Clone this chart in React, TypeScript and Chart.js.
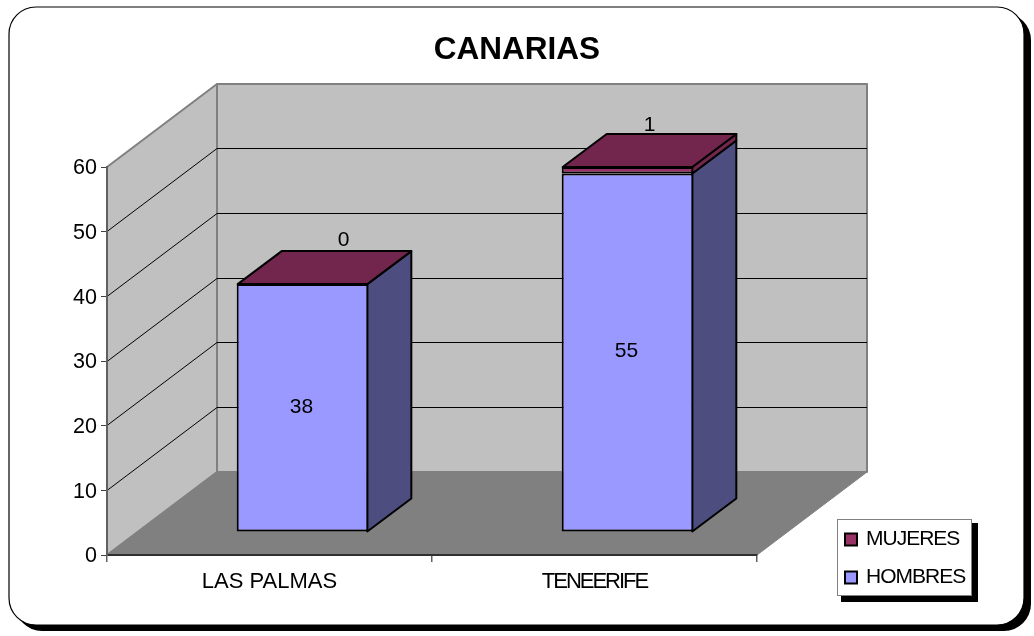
import React, { useEffect, useRef } from "react";
import { Chart, registerables } from "chart.js";

Chart.register(...registerables);

const categories = ["LAS PALMAS", "TENEERIFE"];
const hombres = [38, 55];
const mujeres = [0, 1];
const yTicksMax = 60;

const FONT = '"Liberation Sans", Arial, sans-serif';
const BAR_SHIFT = { x: 33, y: -23.5 };
const BAR_DEPTH = { x: 44, y: 33 };
const WALL_DEPTH = { x: 110, y: 83 };
const X_LABEL_SPACING = ["0px", "-2px"];

const poly = (ctx: CanvasRenderingContext2D, pts: number[][], fill: string, stroke: string, lw: number) => {
  ctx.beginPath();
  pts.forEach((p, i) => (i ? ctx.lineTo(p[0], p[1]) : ctx.moveTo(p[0], p[1])));
  ctx.closePath();
  ctx.fillStyle = fill;
  ctx.fill();
  if (lw > 0) {
    ctx.strokeStyle = stroke;
    ctx.lineWidth = lw;
    ctx.lineJoin = "round";
    ctx.stroke();
  }
};

const stagePlugin = {
  id: "stage",
  afterLayout(chart: any) {
    // centre the title on the whole page, not on the padded box
    chart.titleBlock.left = 0;
    chart.titleBlock.right = chart.width;
    // category labels keep the scale's own positions, with per-label tracking
    const x = chart.scales.x;
    x.drawLabels = function (area: any) {
      const ctx = this.ctx;
      this.getLabelItems(area).forEach((item: any, i: number) => {
        const o = item.options;
        ctx.save();
        ctx.translate(o.translation[0], o.translation[1]);
        ctx.font = item.font.string;
        ctx.letterSpacing = X_LABEL_SPACING[i];
        ctx.fillStyle = o.color;
        ctx.textAlign = o.textAlign;
        ctx.textBaseline = o.textBaseline;
        ctx.fillText(item.label, 0, item.textOffset);
        ctx.restore();
      });
    };
  },
  beforeDraw(chart: any) {
    const { ctx, chartArea: a, scales } = chart;
    const dx = WALL_DEPTH.x;
    const dy = WALL_DEPTH.y;
    ctx.save();
    ctx.fillStyle = "#ffffff";
    ctx.fillRect(0, 0, chart.width, chart.height);
    // frame with shadow
    ctx.fillStyle = "#000000";
    ctx.beginPath();
    ctx.roundRect(15, 13, 1016, 618, 27);
    ctx.fill();
    ctx.beginPath();
    ctx.roundRect(9, 7, 1015, 618, 27);
    ctx.fillStyle = "#ffffff";
    ctx.fill();
    ctx.strokeStyle = "#000000";
    ctx.lineWidth = 1.2;
    ctx.stroke();

    // walls and floor
    const L = a.left, R = a.right, T = a.top, B = a.bottom;
    poly(ctx, [[L + dx, T - dy], [R + dx, T - dy], [R + dx, B - dy], [L + dx, B - dy]], "#c0c0c0", "#808080", 2);
    poly(ctx, [[L, T], [L + dx, T - dy], [L + dx, B - dy], [L, B]], "#c0c0c0", "#808080", 2);
    poly(ctx, [[L, B], [L + dx, B - dy], [R + dx, B - dy], [R, B]], "#808080", "#808080", 1);

    // gridlines on the walls
    ctx.strokeStyle = "#000000";
    ctx.lineWidth = 1;
    scales.y.ticks.forEach((t: any) => {
      if (t.value === 0 || t.value === yTicksMax) return;
      const y = Math.floor(scales.y.getPixelForValue(t.value)) + 0.5;
      ctx.beginPath();
      ctx.moveTo(L, y);
      ctx.lineTo(L + dx, y - dy);
      ctx.lineTo(R + dx, y - dy);
      ctx.stroke();
    });
    ctx.restore();
  },
  beforeDatasetsDraw(chart: any) {
    const { ctx } = chart;
    ctx.save();
    ctx.translate(BAR_SHIFT.x, BAR_SHIFT.y);
    const sideColors = ["#4d4d80", "#73264d"];
    const metas = chart.data.datasets.map((_: any, i: number) => chart.getDatasetMeta(i));
    categories.forEach((_, idx) => {
      metas.forEach((m: any, di: number) => {
        const el = m.data[idx];
        const r = el.x + el.width / 2 - 1;
        const h = Math.abs(el.base - el.y);
        if (h > 0.01) {
          poly(ctx, [[r, el.y], [r + BAR_DEPTH.x, el.y - BAR_DEPTH.y], [r + BAR_DEPTH.x, el.base - BAR_DEPTH.y], [r, el.base]], sideColors[di], "#000000", 2);
        }
      });
      const top = metas[metas.length - 1].data[idx];
      const l = top.x - top.width / 2 + 1;
      const r = top.x + top.width / 2 - 1;
      poly(ctx, [[l, top.y], [l + BAR_DEPTH.x, top.y - BAR_DEPTH.y], [r + BAR_DEPTH.x, top.y - BAR_DEPTH.y], [r, top.y]], "#73264d", "#000000", 2);
    });
  },
  afterDatasetsDraw(chart: any) {
    const { ctx } = chart;
    ctx.restore();
    ctx.save();
    ctx.font = `21px ${FONT}`;
    ctx.fillStyle = "#000000";
    ctx.textAlign = "center";
    ctx.textBaseline = "middle";
    const m0 = chart.getDatasetMeta(0);
    const m1 = chart.getDatasetMeta(1);
    const topDx = [41, 22];
    const topDy = [-44, -42];
    categories.forEach((_, idx) => {
      const a = m0.data[idx];
      ctx.fillText(String(hombres[idx]), a.x + BAR_SHIFT.x - 1, (a.y + a.base) / 2 + BAR_SHIFT.y - 1);
      const b = m1.data[idx];
      ctx.fillText(String(mujeres[idx]), b.x + BAR_SHIFT.x + topDx[idx], b.y + BAR_SHIFT.y + topDy[idx]);
    });
    // legend
    const x = 837, y = 519, w = 134, h = 76;
    ctx.fillStyle = "#000000";
    ctx.fillRect(x + 4, y + 4, w + 3, h + 3);
    ctx.fillStyle = "#ffffff";
    ctx.fillRect(x, y, w, h);
    ctx.strokeStyle = "#808080";
    ctx.lineWidth = 1;
    ctx.strokeRect(x + 0.5, y + 0.5, w, h);
    const items = [chart.data.datasets[1], chart.data.datasets[0]];
    ctx.font = `21px ${FONT}`;
    ctx.letterSpacing = "-1px";
    ctx.textAlign = "left";
    items.forEach((d: any, i: number) => {
      const cy = 539.5 + i * 38;
      ctx.fillStyle = d.backgroundColor;
      ctx.fillRect(845, cy - 6, 12, 12);
      ctx.strokeStyle = "#000000";
      ctx.lineWidth = 2;
      ctx.strokeRect(845, cy - 6, 12, 12);
      ctx.fillStyle = "#000000";
      ctx.fillText(d.label, 866, cy);
    });
    ctx.restore();
  },
};

export default function App() {
  const ref = useRef<HTMLCanvasElement>(null);
  useEffect(() => {
    document.body.style.margin = "0";
    const chart = new Chart(ref.current as HTMLCanvasElement, {
      type: "bar",
      data: {
        labels: categories,
        datasets: [
          { label: "HOMBRES", data: hombres, backgroundColor: "#9999ff", borderColor: "#000000", borderWidth: 2, borderSkipped: false, yAxisID: "yBars", clip: false },
          { label: "MUJERES", data: mujeres, backgroundColor: "#993366", borderColor: "#000000", borderWidth: 2, borderSkipped: false, yAxisID: "yBars", clip: false },
        ],
      } as any,
      options: {
        responsive: false,
        animation: false,
        layout: { padding: { left: 0, right: 277, top: 0, bottom: 0 } },
        datasets: { bar: { barPercentage: 0.405, categoryPercentage: 1 } },
        plugins: {
          legend: { display: false },
          tooltip: { enabled: false },
          title: {
            display: true,
            text: "CANARIAS",
            color: "#000000",
            font: { family: FONT, size: 31.5, weight: "bold", lineHeight: 1.2 },
            padding: { top: 31, bottom: 98.2 },
          },
        },
        scales: {
          x: {
            stacked: true,
            afterFit: (s: any) => { s.height = 81; },
            grid: { offset: true, drawOnChartArea: false, drawTicks: true, tickLength: 7, color: "#606060", lineWidth: 1.5 },
            border: { color: "#303030", width: 2 },
            ticks: { color: "#000000", font: { family: FONT, size: 22 }, padding: 7, maxRotation: 0 },
          },
          y: {
            min: 0,
            max: yTicksMax,
            afterFit: (s: any) => { s.width = 107; },
            grid: { drawOnChartArea: false, tickLength: 6, color: "#404040", lineWidth: 1 },
            border: { color: "#606060", width: 2 },
            ticks: { stepSize: 10, color: "#000000", font: { family: FONT, size: 21.5 }, padding: 4, labelOffset: 1.5 },
          },
          yBars: { display: false, stacked: true, min: 0, max: 59.6 },
        },
      } as any,
      plugins: [stagePlugin] as any,
    });
    return () => chart.destroy();
  }, []);
  return <canvas ref={ref} width={1034} height={636} style={{ display: "block" }} />;
}
